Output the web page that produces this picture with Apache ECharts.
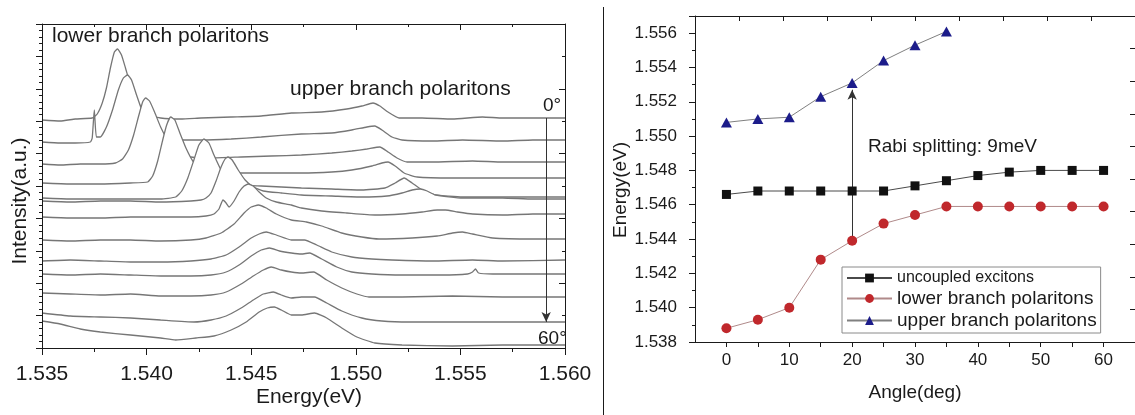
<!DOCTYPE html>
<html>
<head>
<meta charset="utf-8">
<script src="https://cdn.jsdelivr.net/npm/echarts@6/dist/echarts.min.js"></script>
<style>
  html, body { margin: 0; padding: 0; background: #fff; }
  #chart { width: 1135px; height: 415px; }
</style>
</head>
<body>
<div id="chart"></div>
<script>
// ---- Left panel: angle-resolved emission spectra, [energy (eV), intensity (a.u., stacked)] ----
const spectrum01 = [[1.53500,22.8],[1.53587,22.7],[1.53659,22.9],[1.53740,23.0],[1.53764,23.4],[1.53788,24.5],[1.53808,26.0],[1.53827,28.0],[1.53846,29.6],[1.53861,29.9],[1.53880,29.3],[1.53899,28.0],[1.53923,26.3],[1.53952,24.8],[1.53986,23.8],[1.54019,23.3],[1.54067,23.0],[1.54163,22.9],[1.54260,23.0],[1.54404,23.1],[1.54548,23.2],[1.54692,23.5],[1.54837,23.6],[1.54957,23.9],[1.55029,24.2],[1.55082,24.5],[1.55115,24.2],[1.55154,23.6],[1.55207,23.0],[1.55317,23.0],[1.55462,22.9],[1.55606,23.1],[1.55702,23.0],[1.55846,23.0],[1.56000,23.0]];
const spectrum02 = [[1.53500,20.6],[1.53587,20.5],[1.53659,20.5],[1.53731,20.6],[1.53740,21.0],[1.53750,23.8],[1.53760,21.1],[1.53779,21.1],[1.53808,22.1],[1.53837,23.8],[1.53865,25.8],[1.53889,27.0],[1.53909,27.3],[1.53928,26.8],[1.53952,25.3],[1.53981,23.6],[1.54019,22.3],[1.54067,21.4],[1.54125,21.0],[1.54178,20.8],[1.54260,20.8],[1.54404,20.9],[1.54548,21.1],[1.54740,21.4],[1.54885,21.5],[1.54981,21.8],[1.55053,22.1],[1.55091,22.2],[1.55125,21.8],[1.55173,21.1],[1.55221,20.8],[1.55365,20.7],[1.55510,20.8],[1.55702,20.7],[1.55846,20.8],[1.56000,20.8]];
const spectrum03 = [[1.53500,18.4],[1.53587,18.3],[1.53683,18.4],[1.53779,18.4],[1.53851,18.5],[1.53885,18.9],[1.53913,19.8],[1.53938,21.3],[1.53962,23.2],[1.53981,24.6],[1.53995,25.0],[1.54014,24.7],[1.54038,23.6],[1.54067,22.1],[1.54106,20.6],[1.54154,19.5],[1.54212,19.1],[1.54308,19.0],[1.54452,19.1],[1.54596,19.2],[1.54740,19.3],[1.54885,19.5],[1.54981,19.7],[1.55053,19.9],[1.55115,20.1],[1.55154,19.6],[1.55197,19.0],[1.55245,18.6],[1.55365,18.6],[1.55558,18.7],[1.55702,18.6],[1.55846,18.6],[1.56000,18.6]];
const spectrum04 = [[1.53500,16.5],[1.53635,16.4],[1.53779,16.4],[1.53923,16.5],[1.54005,16.6],[1.54029,17.2],[1.54053,18.7],[1.54077,20.8],[1.54096,22.3],[1.54115,23.1],[1.54135,22.8],[1.54159,21.5],[1.54188,20.0],[1.54221,18.7],[1.54260,18.0],[1.54332,17.6],[1.54452,17.5],[1.54596,17.5],[1.54740,17.5],[1.54885,17.6],[1.54981,17.8],[1.55077,18.2],[1.55125,18.5],[1.55154,18.6],[1.55188,18.2],[1.55231,17.5],[1.55293,17.1],[1.55462,17.0],[1.55702,17.0],[1.55846,17.0],[1.56000,17.0]];
const spectrum05 = [[1.53500,15.0],[1.53635,14.9],[1.53779,14.9],[1.53923,14.9],[1.54067,14.9],[1.54139,15.1],[1.54168,15.7],[1.54197,17.0],[1.54226,18.8],[1.54250,20.3],[1.54274,20.9],[1.54298,20.5],[1.54322,19.3],[1.54356,17.8],[1.54394,16.8],[1.54452,16.3],[1.54548,16.2],[1.54644,16.1],[1.54740,16.0],[1.54885,15.9],[1.55029,15.8],[1.55139,16.0],[1.55188,16.5],[1.55231,17.0],[1.55269,16.5],[1.55317,15.8],[1.55380,15.3],[1.55510,15.1],[1.55702,15.1],[1.55846,15.1],[1.56000,15.1]];
const spectrum06 = [[1.53500,14.7],[1.53635,14.6],[1.53779,14.7],[1.53923,14.7],[1.54067,14.6],[1.54212,14.7],[1.54260,14.8],[1.54284,15.0],[1.54308,15.5],[1.54332,16.7],[1.54356,18.1],[1.54375,18.9],[1.54389,19.1],[1.54409,18.8],[1.54438,17.8],[1.54471,16.8],[1.54510,16.1],[1.54558,15.7],[1.54644,15.5],[1.54740,15.3],[1.54885,15.2],[1.55029,15.1],[1.55149,15.2],[1.55221,15.5],[1.55269,15.8],[1.55308,15.9],[1.55341,15.7],[1.55380,15.3],[1.55510,15.0],[1.55702,15.0],[1.55846,14.9],[1.56000,14.9]];
const spectrum07 = [[1.53500,13.1],[1.53635,13.0],[1.53779,13.0],[1.53923,13.1],[1.54067,13.1],[1.54212,13.1],[1.54284,13.2],[1.54322,13.4],[1.54346,13.9],[1.54365,14.8],[1.54380,14.5],[1.54394,14.1],[1.54418,14.7],[1.54442,15.6],[1.54466,16.2],[1.54486,16.4],[1.54510,16.2],[1.54538,15.6],[1.54572,15.0],[1.54620,14.6],[1.54692,14.3],[1.54740,14.0],[1.54837,13.7],[1.54957,13.5],[1.55091,13.3],[1.55221,13.4],[1.55317,13.6],[1.55389,13.8],[1.55428,13.8],[1.55486,13.6],[1.55558,13.4],[1.55702,13.3],[1.55846,13.4],[1.56000,13.4]];
const spectrum08 = [[1.53500,10.8],[1.53635,10.7],[1.53779,10.8],[1.53923,10.8],[1.54067,10.7],[1.54212,10.8],[1.54284,11.0],[1.54356,11.5],[1.54418,12.4],[1.54466,13.5],[1.54500,14.1],[1.54534,14.3],[1.54572,14.0],[1.54620,13.4],[1.54692,12.8],[1.54764,12.6],[1.54837,12.2],[1.54933,11.5],[1.55029,11.1],[1.55111,10.9],[1.55269,11.0],[1.55389,11.2],[1.55462,11.5],[1.55510,11.6],[1.55558,11.4],[1.55654,11.0],[1.55846,10.9],[1.56000,10.9]];
const spectrum09 = [[1.53500,8.7],[1.53635,8.8],[1.53779,8.7],[1.53923,8.6],[1.54067,8.6],[1.54212,8.7],[1.54308,8.9],[1.54380,9.3],[1.54442,10.1],[1.54500,11.0],[1.54538,11.4],[1.54572,11.6],[1.54620,11.3],[1.54692,10.8],[1.54755,10.8],[1.54813,10.3],[1.54885,9.6],[1.54981,9.1],[1.55077,8.9],[1.55173,8.8],[1.55365,8.7],[1.55558,8.8],[1.55702,8.7],[1.56000,8.8]];
const spectrum10 = [[1.53500,7.4],[1.53635,7.3],[1.53779,7.4],[1.53923,7.3],[1.54067,7.2],[1.54212,7.2],[1.54308,7.3],[1.54380,7.6],[1.54442,8.3],[1.54500,9.2],[1.54548,9.8],[1.54587,10.0],[1.54635,9.7],[1.54692,9.5],[1.54740,9.4],[1.54779,9.5],[1.54837,8.9],[1.54909,8.1],[1.54981,7.6],[1.55077,7.4],[1.55221,7.3],[1.55413,7.3],[1.55534,7.4],[1.55558,7.6],[1.55572,7.9],[1.55587,7.5],[1.55654,7.4],[1.55846,7.4],[1.56000,7.4]];
const spectrum11 = [[1.53500,5.5],[1.53635,5.4],[1.53779,5.3],[1.53923,5.4],[1.54067,5.2],[1.54212,5.2],[1.54308,5.3],[1.54380,5.6],[1.54452,6.4],[1.54510,7.2],[1.54558,7.8],[1.54596,8.1],[1.54644,7.8],[1.54692,7.6],[1.54740,7.5],[1.54798,7.6],[1.54861,6.8],[1.54933,6.0],[1.55005,5.4],[1.55063,5.1],[1.55221,5.1],[1.55462,5.2],[1.55702,5.1],[1.56000,5.1]];
const spectrum12 = [[1.53500,3.5],[1.53635,3.2],[1.53779,3.1],[1.53923,3.0],[1.54067,2.8],[1.54226,2.6],[1.54308,2.8],[1.54380,3.2],[1.54452,4.0],[1.54510,4.8],[1.54558,5.4],[1.54606,5.6],[1.54644,5.3],[1.54692,5.0],[1.54740,5.1],[1.54803,5.1],[1.54861,4.5],[1.54933,3.7],[1.55029,3.0],[1.55125,2.7],[1.55255,2.6],[1.55462,2.6],[1.55702,2.6],[1.56000,2.6]];
const spectrum13 = [[1.53500,2.7],[1.53587,2.4],[1.53683,1.9],[1.53779,1.6],[1.53923,1.3],[1.54067,1.0],[1.54139,0.8],[1.54236,1.0],[1.54322,1.2],[1.54404,1.8],[1.54476,2.6],[1.54538,3.6],[1.54577,4.0],[1.54611,4.1],[1.54644,3.8],[1.54692,3.3],[1.54740,3.3],[1.54803,3.5],[1.54861,3.0],[1.54933,2.0],[1.55005,1.1],[1.55091,0.5],[1.55221,0.3],[1.55462,0.2],[1.55702,0.3],[1.56000,0.3]];
const spectra = [spectrum01, spectrum02, spectrum03, spectrum04, spectrum05, spectrum06, spectrum07,
                 spectrum08, spectrum09, spectrum10, spectrum11, spectrum12, spectrum13];

// angle sweep arrow (0° at the top trace, 60° at the bottom one)
const sweepArrow = { energy: 1.5591, from: 23.0, to: 2.6 };

// ---- Right panel: peak energies vs detection angle ----
const angles   = [0, 5, 10, 15, 20, 25, 30, 35, 40, 45, 50, 55, 60];
const excitons = [1.5466, 1.5468, 1.5468, 1.5468, 1.5468, 1.5468, 1.5471, 1.5474, 1.5477, 1.5479, 1.5480, 1.5480, 1.5480];
const lowerLP  = [1.5388, 1.5393, 1.5400, 1.5428, 1.5439, 1.5449, 1.5454, 1.5459, 1.5459, 1.5459, 1.5459, 1.5459, 1.5459];
const upperUP  = [1.5508, 1.5510, 1.5511, 1.5523, 1.5531, 1.5544, 1.5553, 1.5561];
const rabiIndex = 4; // splitting marked at 20°

const FONT = "'Liberation Sans', Arial, sans-serif";
const INK = '#1a1a1a';

const chart = echarts.init(document.getElementById('chart'), null, { renderer: 'canvas' });

function boxAxis(extra) {
  return Object.assign({
    z: 50,
    axisLine: { show: true, onZero: false, lineStyle: { color: INK, width: 1 } },
    splitLine: { show: false },
    axisLabel: { show: false },
    axisTick: { show: true, inside: true, length: 5, lineStyle: { color: INK } }
  }, extra);
}

const spectrumSeries = spectra.map((pts, i) => ({
  type: 'line',
  xAxisIndex: 0, yAxisIndex: 0,
  data: pts,
  showSymbol: false,
  smooth: 0.15,
  z: 2 + i,
  silent: true,
  lineStyle: { color: '#767676', width: 1.3 },
  areaStyle: { color: '#ffffff', opacity: 1, origin: 'start' }
}));

// arrow along the sweep, drawn above every trace
spectrumSeries[spectrumSeries.length - 1].markLine = {
  silent: true,
  z: 45,
  symbol: ['none', 'arrow'],
  symbolSize: [7, 10],
  label: { show: false },
  lineStyle: { color: '#333', width: 1, type: 'solid' },
  data: [[{ coord: [sweepArrow.energy, sweepArrow.from] }, { coord: [sweepArrow.energy, sweepArrow.to] }]]
};

const option = {
  animation: false,
  backgroundColor: '#ffffff',
  textStyle: { fontFamily: FONT, color: INK },
  grid: [
    { left: 42, top: 24, width: 523, height: 324, show: false },
    { left: 695, top: 16, width: 440, height: 326, show: false }
  ],
  xAxis: [
    boxAxis({ gridIndex: 0, type: 'value', position: 'bottom', min: 1.535, max: 1.560, interval: 0.005,
      axisTick: { show: true, inside: false, length: 7, lineStyle: { color: INK } },
      minorTick: { show: true, splitNumber: 2, length: 4, lineStyle: { color: INK } },
      axisLabel: { show: true, fontSize: 21, fontFamily: FONT, color: INK, margin: 16,
        formatter: v => v.toFixed(3) } }),
    boxAxis({ gridIndex: 0, type: 'value', position: 'top', min: 1.535, max: 1.560, interval: 0.005,
      axisTick: { show: true, inside: true, length: 6, lineStyle: { color: INK } },
      minorTick: { show: true, splitNumber: 2, length: 3, lineStyle: { color: INK } } }),
    boxAxis({ gridIndex: 1, type: 'value', position: 'bottom', min: -5, max: 65, interval: 5,
      axisTick: { show: true, inside: false, length: 5, lineStyle: { color: INK } },
      axisLabel: { show: true, fontSize: 17, fontFamily: FONT, color: INK, margin: 10,
        showMinLabel: false, showMaxLabel: false,
        formatter: v => (v % 10 === 0 && v >= 0 && v <= 60) ? String(v) : '' } }),
    boxAxis({ gridIndex: 1, type: 'value', position: 'top', min: 0, max: 10, interval: 1 })
  ],
  yAxis: [
    boxAxis({ gridIndex: 0, type: 'value', position: 'left', min: 0, max: 32.4, interval: 3.24,
      axisTick: { show: true, inside: false, length: 6, lineStyle: { color: INK } },
      minorTick: { show: true, splitNumber: 5, length: 3, lineStyle: { color: INK } } }),
    boxAxis({ gridIndex: 0, type: 'value', position: 'right', min: 0, max: 32.4, interval: 6.48,
      axisTick: { show: true, inside: true, length: 6, lineStyle: { color: INK } },
      minorTick: { show: true, splitNumber: 2, length: 3, lineStyle: { color: INK } } }),
    boxAxis({ gridIndex: 1, type: 'value', position: 'left', min: 1.538, max: 1.557, interval: 0.002,
      axisTick: { show: true, inside: false, length: 6, lineStyle: { color: INK } },
      minorTick: { show: true, splitNumber: 2, length: 3, lineStyle: { color: INK } },
      axisLabel: { show: true, fontSize: 17, fontFamily: FONT, color: INK, margin: 18,
        showMaxLabel: false, formatter: v => v.toFixed(3) } }),
    boxAxis({ gridIndex: 1, type: 'value', position: 'right', min: 0, max: 10, interval: 1 })
  ],
  legend: {
    left: 842, top: 267,
    orient: 'vertical',
    itemWidth: 45, itemHeight: 11, itemGap: 3,
    padding: [3, 4, 3, 4],
    borderColor: '#8a8a8a', borderWidth: 1,
    backgroundColor: '#ffffff',
    textStyle: { fontFamily: FONT, fontSize: 19, color: INK },
    data: [
      { name: 'uncoupled excitons', textStyle: { fontSize: 16 } },
      { name: 'lower branch polaritons' },
      { name: 'upper branch polaritons' }
    ],
    z: 60
  },
  series: spectrumSeries.concat([
    {
      name: 'uncoupled excitons', type: 'line', xAxisIndex: 2, yAxisIndex: 2,
      data: angles.map((a, i) => [a, excitons[i]]),
      symbol: 'rect', symbolSize: 9, z: 30,
      itemStyle: { color: '#111111' },
      lineStyle: { color: '#4a4a4a', width: 1 }
    },
    {
      name: 'lower branch polaritons', type: 'line', xAxisIndex: 2, yAxisIndex: 2,
      data: angles.map((a, i) => [a, lowerLP[i]]),
      symbol: 'circle', symbolSize: 10, z: 31,
      itemStyle: { color: '#c0282c' },
      lineStyle: { color: '#b08a8a', width: 1 },
      markLine: {
        silent: true,
        z: 29,
        symbol: ['none', 'arrow'],
        symbolSize: [7, 10],
        label: { show: false },
        lineStyle: { color: '#333', width: 1, type: 'solid' },
        data: [[{ coord: [angles[rabiIndex], lowerLP[rabiIndex]] },
                { coord: [angles[rabiIndex], upperUP[rabiIndex] - 0.0004] }]]
      }
    },
    {
      name: 'upper branch polaritons', type: 'line', xAxisIndex: 2, yAxisIndex: 2,
      data: upperUP.map((v, i) => [angles[i], v]),
      symbol: 'triangle', symbolSize: [11, 10], z: 32,
      itemStyle: { color: '#1c1c8a' },
      lineStyle: { color: '#808080', width: 1 }
    }
  ]),
  graphic: [
    { type: 'line', z: 100, shape: { x1: 603.5, y1: 7, x2: 603.5, y2: 415 }, style: { stroke: INK, lineWidth: 1 } },
    { type: 'text', z: 100, x: 52, y: 36, style: { text: 'lower branch polaritons', font: '21px ' + FONT, fill: INK, textAlign: 'left', textVerticalAlign: 'middle' } },
    { type: 'text', z: 100, x: 290, y: 89, style: { text: 'upper branch polaritons', font: '21px ' + FONT, fill: INK, textAlign: 'left', textVerticalAlign: 'middle' } },
    { type: 'text', z: 100, x: 543, y: 106, style: { text: '0°', font: '19px ' + FONT, fill: INK, textAlign: 'left', textVerticalAlign: 'middle' } },
    { type: 'text', z: 100, x: 538, y: 339, style: { text: '60°', font: '19px ' + FONT, fill: INK, textAlign: 'left', textVerticalAlign: 'middle' } },
    { type: 'text', z: 100, x: 20, y: 201, rotation: Math.PI / 2, style: { text: 'Intensity(a.u.)', font: '21px ' + FONT, fill: INK, textAlign: 'center', textVerticalAlign: 'middle' } },
    { type: 'text', z: 100, x: 309, y: 397, style: { text: 'Energy(eV)', font: '21px ' + FONT, fill: INK, textAlign: 'center', textVerticalAlign: 'middle' } },
    { type: 'text', z: 100, x: 621, y: 190, rotation: Math.PI / 2, style: { text: 'Energy(eV)', font: '19px ' + FONT, fill: INK, textAlign: 'center', textVerticalAlign: 'middle' } },
    { type: 'text', z: 100, x: 915, y: 393, style: { text: 'Angle(deg)', font: '19px ' + FONT, fill: INK, textAlign: 'center', textVerticalAlign: 'middle' } },
    { type: 'text', z: 100, x: 868, y: 147, style: { text: 'Rabi splitting: 9meV', font: '19px ' + FONT, fill: INK, textAlign: 'left', textVerticalAlign: 'middle' } }
  ]
};

chart.setOption(option);
</script>
</body>
</html>
